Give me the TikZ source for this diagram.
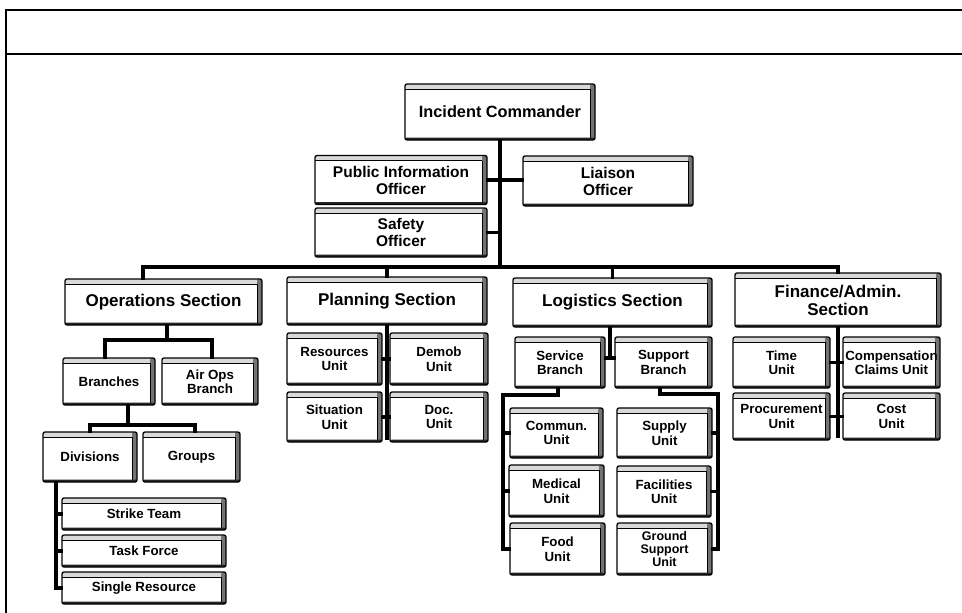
\documentclass[tikz,border=0pt]{standalone}
\usepackage{fontspec}
\setmainfont{Liberation Sans}
\begin{document}
\begin{tikzpicture}[x=1pt,y=-1pt,
  bx/.style={draw=black, line width=1.3pt, fill=white, rounded corners=2pt, align=center,
    inner sep=0pt, font=\bfseries\fontsize{13.3}{14.5}\selectfont,
    path picture={
      \fill[black!15] (path picture bounding box.north west) rectangle ([yshift=-5pt]path picture bounding box.north east);
      \draw[line width=0.9pt] ([yshift=-5pt]path picture bounding box.north west) -- ([yshift=-5pt,xshift=-5pt]path picture bounding box.north east);
      \fill[black!55] ([xshift=-5pt]path picture bounding box.north east) rectangle (path picture bounding box.south east);
      \draw[line width=0.9pt] ([xshift=-5pt,yshift=-5pt]path picture bounding box.north east) -- ([xshift=-5pt]path picture bounding box.south east);
      \fill[black!85] (path picture bounding box.south west) rectangle ([yshift=2.5pt]path picture bounding box.south east);
    }},
  big/.style={font=\bfseries\fontsize{17}{18}\selectfont},
  top/.style={font=\bfseries\fontsize{16.3}{17}\selectfont},
  mid/.style={font=\bfseries\fontsize{15.5}{17}\selectfont},
  conn/.style={line width=3.2pt, line join=miter, line cap=rect}]
\useasboundingbox (0,0) rectangle (962,613);
% frame
\draw[line width=2pt] (6,613) -- (6,10) -- (962,10);
\draw[line width=1.5pt] (6,54) -- (962,54);

% top
\node[bx, top, minimum width=190pt, minimum height=56pt] (ic) at (500,112) {Incident Commander};
\node[bx, mid, minimum width=172pt, minimum height=49pt] (pio) at (401,180) {Public Information\\Officer};
\node[bx, mid, minimum width=170pt, minimum height=50pt] (lia) at (608,181) {Liaison\\Officer};
\node[bx, mid, minimum width=172pt, minimum height=49pt] (saf) at (401,232.5) {Safety\\Officer};

% sections
\node[bx, big, minimum width=197pt, minimum height=46pt] (ops) at (163.5,302) {Operations Section};
\node[bx, big, minimum width=200pt, minimum height=48pt] (pln) at (387,301) {Planning Section};
\node[bx, big, minimum width=199pt, minimum height=49pt] (lgs) at (612.5,302.5) {Logistics Section};
\node[bx, big, minimum width=206pt, minimum height=54pt] (fin) at (838,300) {Finance/Admin.\\Section};

% operations
\node[bx, minimum width=92pt, minimum height=47pt] (brn) at (109,381.5) {Branches};
\node[bx, minimum width=96pt, minimum height=47pt] (air) at (210,381.5) {Air Ops\\Branch};
\node[bx, minimum width=94pt, minimum height=50pt] (div) at (90,457) {Divisions};
\node[bx, minimum width=97pt, minimum height=50pt] (grp) at (191.5,457) {Groups};
\node[bx, minimum width=164pt, minimum height=32pt] (stt) at (144,514) {Strike Team};
\node[bx, minimum width=164pt, minimum height=32pt] (tsk) at (144,551) {Task Force};
\node[bx, minimum width=164pt, minimum height=32pt] (sgl) at (144,588) {Single Resource};

% planning
\node[bx, minimum width=95pt, minimum height=52pt] (res) at (334.5,359) {Resources\\Unit};
\node[bx, minimum width=98pt, minimum height=52pt] (dem) at (439,359) {Demob\\Unit};
\node[bx, minimum width=95pt, minimum height=50pt] (sit) at (334.5,417) {Situation\\Unit};
\node[bx, minimum width=98pt, minimum height=50pt] (doc) at (439,417) {Doc.\\Unit};

% logistics
\node[bx, minimum width=90pt, minimum height=51pt] (svc) at (560,362.5) {Service\\Branch};
\node[bx, minimum width=97pt, minimum height=51pt] (sup) at (663.5,362.5) {Support\\Branch};
\node[bx, minimum width=93pt, minimum height=50pt] (com) at (556.5,433) {Commun.\\Unit};
\node[bx, minimum width=95pt, minimum height=52pt] (med) at (556.5,491) {Medical\\Unit};
\node[bx, minimum width=95pt, minimum height=52pt] (food) at (557.5,549) {Food\\Unit};
\node[bx, minimum width=95pt, minimum height=50pt] (sply) at (664.5,433) {Supply\\Unit};
\node[bx, minimum width=94pt, minimum height=51pt] (fac) at (664,491.5) {Facilities\\Unit};
\node[bx, minimum width=95pt, minimum height=52pt, font=\bfseries\fontsize{12.5}{13}\selectfont] (gsu) at (664.5,549) {Ground\\Support\\Unit};

% finance
\node[bx, minimum width=97pt, minimum height=51pt] (tim) at (781.5,362.5) {Time\\Unit};
\node[bx, minimum width=97pt, minimum height=51pt] (cmp) at (891.5,362.5) {Compensation\\Claims Unit};
\node[bx, minimum width=97pt, minimum height=47pt] (pro) at (781.5,416.5) {Procurement\\Unit};
\node[bx, minimum width=97pt, minimum height=47pt] (cst) at (891.5,416.5) {Cost\\Unit};

% connectors: command staff
\coordinate (busL) at (143,267);
\coordinate (busR) at (838,267);
\draw[conn] (ic.south) -- (ic.south |- busL);
\draw[conn] (pio.east) -- (pio.east -| lia.west);
\draw[conn] (saf.east) -- (saf.east -| ic.south);
\draw[conn] (busL |- ops.north) -- (busL) -- (busR) -- (busR |- fin.north);
\draw[conn] (pln.north |- busL) -- (pln.north);
\draw[conn] (lgs.north |- busL) -- (lgs.north);

% operations
\coordinate (opsM) at (167,340);
\coordinate (opsL) at (105,340);
\coordinate (opsR) at (212,340);
\draw[conn] (ops.south -| opsM) -- (opsM);
\draw[conn] (opsL |- brn.north) -- (opsL) -- (opsR) -- (opsR |- air.north);
\coordinate (brM) at (128,425);
\coordinate (brL) at (90,425);
\coordinate (brR) at (195,425);
\draw[conn] (brn.south -| brM) -- (brM);
\draw[conn] (brL |- div.north) -- (brL) -- (brR) -- (brR |- grp.north);
\coordinate (dv) at (56,482);
\draw[conn] (div.south -| dv) -- (dv |- sgl.west) -- (sgl.west);
\draw[conn] (dv |- stt.west) -- (stt.west);
\draw[conn] (dv |- tsk.west) -- (tsk.west);

% planning
\coordinate (plEnd) at (387,438);
\draw[conn] (pln.south) -- (plEnd);
\draw[conn] (res.east) -- (dem.west);
\draw[conn] (sit.east) -- (doc.west);

% logistics
\coordinate (lgT) at (610,358);
\draw[conn] (lgs.south -| lgT) -- (lgT);
\draw[conn] (svc.east |- lgT) -- (sup.west |- lgT);
\coordinate (svT) at (558,395);
\coordinate (svL) at (503,395);
\draw[conn] (svT |- svc.south) -- (svT) -- (svL) -- (svL |- food.west) -- (food.west);
\draw[conn] (svL |- com.west) -- (com.west);
\draw[conn] (svL |- med.west) -- (med.west);
\coordinate (spT) at (660,394);
\coordinate (spR) at (718,394);
\draw[conn] (spT |- sup.south) -- (spT) -- (spR) -- (spR |- gsu.east) -- (gsu.east);
\draw[conn] (spR |- sply.east) -- (sply.east);
\draw[conn] (spR |- fac.east) -- (fac.east);

% finance
\coordinate (fnEnd) at (838,436);
\draw[conn] (fin.south) -- (fnEnd);
\draw[conn] (tim.east) -- (cmp.west);
\draw[conn] (pro.east) -- (cst.west);
\end{tikzpicture}
\end{document}
